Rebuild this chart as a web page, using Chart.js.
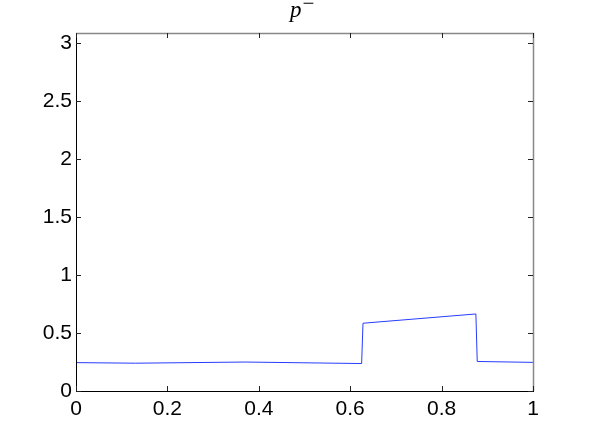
<!DOCTYPE html>
<html>
<head>
<meta charset="utf-8">
<script src="https://cdn.jsdelivr.net/npm/chart.js@4/dist/chart.umd.min.js"></script>
<style>
  html, body { margin: 0; padding: 0; background: #fff; }
  #wrap { width: 589px; height: 441px; }
</style>
</head>
<body>
<div id="wrap"><canvas id="c" width="589" height="441"></canvas></div>
<script>
"use strict";
// dati
const xs = [0, 0.13, 0.37, 0.625, 0.628, 0.875, 0.878, 1];
const pMinus = [0.245, 0.24, 0.25, 0.237, 0.585, 0.665, 0.255, 0.247];
const xTicks = [0, 0.2, 0.4, 0.6, 0.8, 1];
const yTicks = [0, 0.5, 1, 1.5, 2, 2.5, 3];

const fontTicks = { family: "'Liberation Sans', Arial, sans-serif", size: 21 };

// box + tacche interne stile matlab
const boxPlugin = {
    id: "box",
    afterDraw(chart) {
        const ctx = chart.ctx;
        const a = chart.chartArea;
        const sx = chart.scales.x, sy = chart.scales.y;
        ctx.save();
        // top e right grigi
        ctx.strokeStyle = "#888";
        ctx.lineWidth = 1.5;
        ctx.beginPath();
        ctx.moveTo(a.left, a.top + 0.5);
        ctx.lineTo(a.right + 0.5, a.top + 0.5);
        ctx.lineTo(a.right + 0.5, a.bottom);
        ctx.stroke();
        // left e bottom neri
        ctx.lineWidth = 1;
        ctx.strokeStyle = "#000";
        ctx.beginPath();
        ctx.moveTo(a.left + 0.5, a.top);
        ctx.lineTo(a.left + 0.5, a.bottom + 0.5);
        ctx.lineTo(a.right + 1, a.bottom + 0.5);
        ctx.stroke();
        const t = 5;
        ctx.strokeStyle = "#222";
        ctx.beginPath();
        for (const v of xTicks) {
            const px = Math.round(sx.getPixelForValue(v)) + 0.5;
            ctx.moveTo(px, a.bottom); ctx.lineTo(px, a.bottom - t);
            ctx.moveTo(px, a.top); ctx.lineTo(px, a.top + t);
        }
        for (const v of yTicks) {
            const py = Math.round(sy.getPixelForValue(v)) + 0.5;
            ctx.moveTo(a.left, py); ctx.lineTo(a.left + t, py);
            ctx.moveTo(a.right, py); ctx.lineTo(a.right - t, py);
        }
        ctx.stroke();
        // titolo p^-
        const cx = (a.left + a.right) / 2;
        ctx.fillStyle = "#000";
        ctx.textBaseline = "alphabetic";
        ctx.textAlign = "left";
        ctx.font = "italic 23px 'Liberation Serif', 'DejaVu Serif', serif";
        ctx.fillText("p", 290, 17);
        ctx.font = "21px 'Liberation Serif', 'DejaVu Serif', serif";
        ctx.fillText("\u2212", 302.5, 10);
        ctx.restore();
    }
};

new Chart(document.getElementById("c"), {
    type: "line",
    data: {
        datasets: [{
            label: "p-",
            data: xs.map((x, i) => ({ x: x, y: pMinus[i] })),
            borderColor: "rgb(40,60,255)",
            borderWidth: 1,
            pointRadius: 0,
            tension: 0,
            fill: false
        }]
    },
    options: {
        responsive: false,
        animation: false,
        events: [],
        layout: { padding: { left: 0, right: 56, top: 33, bottom: 0 } },
        plugins: { legend: { display: false }, tooltip: { enabled: false } },
        scales: {
            x: {
                type: "linear",
                min: 0, max: 1,
                grid: { display: false, drawTicks: false },
                border: { display: false },
                afterBuildTicks: s => { s.ticks = xTicks.map(v => ({ value: v })); },
                afterFit: s => { s.height = 50; },
                ticks: {
                    color: "#000", font: fontTicks, padding: 6, maxRotation: 0,
                    callback: v => String(v)
                }
            },
            y: {
                type: "linear",
                min: 0, max: 3.09,
                grid: { display: false, drawTicks: false },
                border: { display: false },
                afterBuildTicks: s => { s.ticks = yTicks.map(v => ({ value: v })); },
                afterFit: s => { s.width = 76; },
                ticks: {
                    color: "#000", font: fontTicks, padding: 4,
                    callback: v => String(v)
                }
            }
        }
    },
    plugins: [boxPlugin]
});
</script>
</body>
</html>
